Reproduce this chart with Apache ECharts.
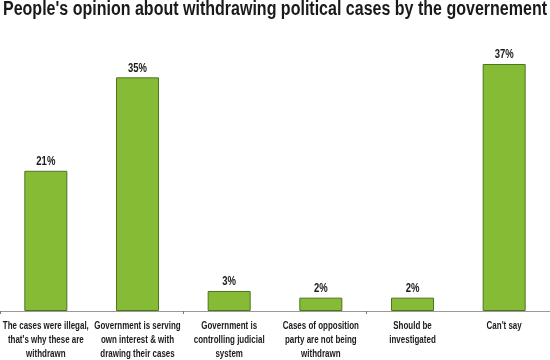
<!DOCTYPE html>
<html><head><meta charset="utf-8">
<script src="https://cdn.jsdelivr.net/npm/echarts@6/dist/echarts.min.js"></script>
<style>html,body{margin:0;padding:0;background:#fff}#c{width:550px;height:360px}</style>
</head><body><div id="c"></div>
<script>
const categories = [
  "The cases were illegal,\nthat's why these are\nwithdrawn",
  "Government is serving\nown interest & with\ndrawing their cases",
  "Government is\ncontrolling judicial\nsystem",
  "Cases of opposition\nparty are not being\nwithdrawn",
  "Should be\ninvestigated",
  "Can't say"
];
const values = [21, 35, 3, 2, 2, 37];
const titleText = "People's opinion about withdrawing political cases by the governement";

const FONT = "'Liberation Sans', Arial, sans-serif";
const textColor = '#1a1a1a';

// horizontal condensing factors (emulating a narrow bold face)
function measure(txt, size) {
  const c = document.createElement('canvas').getContext('2d');
  c.font = 'bold ' + size + 'px ' + FONT;
  return c.measureText(txt).width;
}
const titleSize = 20;
const titleScale = 544 / measure(titleText, titleSize);
const labSize = 11;
const labScale = 86 / measure("The cases were illegal,", labSize);
const valSize = 12;
const valScale = 19 / measure("37%", valSize);

const chart = echarts.init(document.getElementById('c'), null, {renderer: 'canvas'});
chart.setOption({
  animation: false,
  grid: {left: 0, right: 0, top: 64, bottom: 49, containLabel: false, outerBoundsMode: 'none'},
  xAxis: {
    type: 'category', data: categories,
    axisLine: {lineStyle: {color: '#9a9a9a', width: 1}},
    axisTick: {show: true, length: 3, lineStyle: {color: '#777'}},
    axisLabel: {show: false}
  },
  yAxis: {type: 'value', min: 0, max: 37, show: false, splitLine: {show: false}},
  series: [{
    type: 'bar', data: values, barWidth: 43,
    itemStyle: {color: '#86BC35', borderColor: '#4E7420', borderWidth: 1}
  }]
});

const graphics = [{
  type: 'text', x: 275, y: -1, scaleX: titleScale, silent: true,
  style: {text: titleText, fontFamily: FONT, fontWeight: 'bold', fontSize: titleSize,
    fill: textColor, align: 'center', verticalAlign: 'top'}
}];
const base = chart.convertToPixel({yAxisIndex: 0}, 0);
categories.forEach((cat, i) => {
  const cx = chart.convertToPixel({xAxisIndex: 0}, i);
  const top = chart.convertToPixel({yAxisIndex: 0}, values[i]);
  graphics.push({
    type: 'text', x: cx, y: base + 8, scaleX: labScale, silent: true,
    style: {text: cat, fontFamily: FONT, fontWeight: 'bold', fontSize: labSize, lineHeight: 14,
      fill: textColor, align: 'center', verticalAlign: 'top'}
  });
  graphics.push({
    type: 'text', x: cx, y: top - 3, scaleX: valScale, silent: true,
    style: {text: values[i] + '%', fontFamily: FONT, fontWeight: 'bold', fontSize: valSize,
      fill: textColor, align: 'center', verticalAlign: 'bottom'}
  });
});
chart.setOption({graphic: graphics});
</script></body></html>
